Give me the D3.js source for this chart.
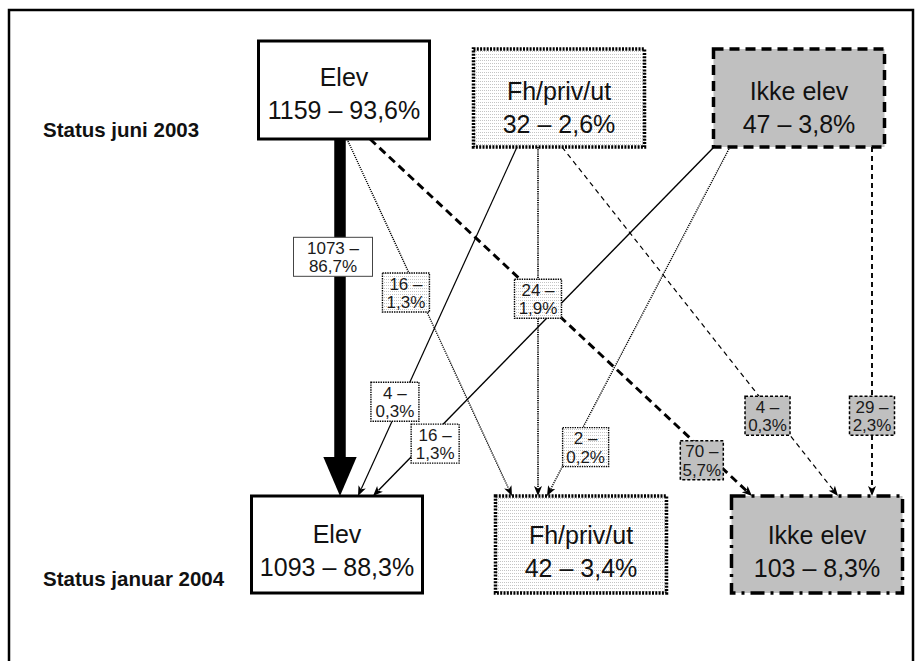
<!DOCTYPE html>
<html>
<head>
<meta charset="utf-8">
<script src="https://cdn.jsdelivr.net/npm/d3@7"></script>
<style>
  body { margin: 0; background: #fff; }
  svg { display: block; }
</style>
</head>
<body>
<div id="chart"></div>
<script>
// categories and values
const statuses = ["Elev", "Fh/priv/ut", "Ikke elev"];
const periods = ["Status juni 2003", "Status januar 2004"];
const countJune = [1159, 32, 47];
const shareJune = ["93,6%", "2,6%", "3,8%"];
const countJan = [1093, 42, 103];
const shareJan = ["88,3%", "3,4%", "8,3%"];

const flowFrom = ["Elev", "Elev", "Elev", "Fh/priv/ut", "Fh/priv/ut", "Fh/priv/ut", "Ikke elev", "Ikke elev", "Ikke elev"];
const flowTo = ["Elev", "Fh/priv/ut", "Ikke elev", "Elev", "Fh/priv/ut", "Ikke elev", "Elev", "Fh/priv/ut", "Ikke elev"];
const flowCount = [1073, 16, 70, 4, 24, 4, 16, 2, 29];
const flowShare = ["86,7%", "1,3%", "5,7%", "0,3%", "1,9%", "0,3%", "1,3%", "0,2%", "2,3%"];

const width = 919, height = 661;

// layout (where things sit on the page)
const xTop = d3.scaleOrdinal(statuses, [344, 559, 799]);
const xBot = d3.scaleOrdinal(statuses, [337, 581, 817]);
const yTopBox = d3.scaleOrdinal(statuses, [[41, 139], [49, 147], [49, 147]]);
const yBotBox = d3.scaleOrdinal(statuses, [[496, 593], [496, 593], [496, 593]]);
const textDyTop = d3.scaleOrdinal(statuses, [-2, 4, 4]);
const textDyBot = d3.scaleOrdinal(statuses, [0, 1, 1]);
const yPeriod = d3.scaleOrdinal(periods, [137, 586]);
const boxW = 171;

// start / end offsets on the box edges, label position along each link
const srcOff = [-4, 3, 26, -42, -21, 3, -85, -69, 73];
const dstOff = [3, -69, -65, 21, -43, 21, 36, -34, 55];
const labT = [0.33, 0.43, 0.9, 0.73, 0.435, 0.77, 0.85, 0.86, 0.77];
const labDx = [-7, -12, -12, -6, 0, -7, 11, 13, 0];
const labW = [79, 47, 43, 48, 47, 45, 48, 46, 45];

const widthScale = d3.scaleSqrt().domain([0, 1073]).range([0, 11.5]);

const svg = d3.select("#chart").append("svg")
    .attr("width", width)
    .attr("height", height)
    .style("font-family", "'Liberation Sans', Arial, sans-serif");

// dotted fill used for Fh/priv/ut
const defs = svg.append("defs");
const pat = defs.append("pattern")
    .attr("id", "dots")
    .attr("patternUnits", "userSpaceOnUse")
    .attr("width", 2).attr("height", 3);
pat.append("rect").attr("width", 2).attr("height", 3).attr("fill", "#fff");
pat.append("rect").attr("width", 1).attr("height", 1).attr("fill", "#c4c4c4");

// outer frame
svg.append("path")
    .attr("d", `M9,${height + 5} V10 H913 V${height + 5}`)
    .attr("fill", "none")
    .attr("stroke", "#000")
    .attr("stroke-width", 2.5);

const fillOf = s => s === "Elev" ? "#fff" : s === "Fh/priv/ut" ? "url(#dots)" : "#c0c0c0";

// period titles
svg.selectAll("text.period")
    .data(periods)
    .join("text")
    .attr("class", "period")
    .attr("x", 43)
    .attr("y", d => yPeriod(d))
    .attr("font-size", 20.5)
    .attr("font-weight", "bold")
    .attr("fill", "#111")
    .text(d => d);

// links
const links = flowFrom.map((f, i) => {
    const x1 = xTop(f) + srcOff[i], y1 = yTopBox(f)[1];
    const x2 = xBot(flowTo[i]) + dstOff[i], y2 = yBotBox(flowTo[i])[0];
    return { from: f, to: flowTo[i], count: flowCount[i], share: flowShare[i], x1, y1, x2, y2, i };
});

const linkG = svg.append("g");
links.forEach(l => {
    let w = Math.max(1.2, widthScale(l.count));
    const len = Math.hypot(l.x2 - l.x1, l.y2 - l.y1);
    const ux = (l.x2 - l.x1) / len, uy = (l.y2 - l.y1) / len;
    const headL = Math.max(10, w * 3.4), headW = Math.max(8, w * 2.9);
    const bx = l.x2 - ux * headL * 0.8, by = l.y2 - uy * headL * 0.8;

    let dash = null;
    if (l.to === "Fh/priv/ut") { dash = "1.2,1"; w = Math.max(w, 1.4); }
    if (l.to === "Ikke elev") dash = l.count > 50 ? "8,5" : "5,4";

    linkG.append("line")
        .attr("x1", l.x1).attr("y1", l.y1)
        .attr("x2", bx).attr("y2", by)
        .attr("stroke", "#000")
        .attr("stroke-width", w)
        .attr("stroke-dasharray", dash);

    // arrow head
    const px = -uy, py = ux;
    const baseX = l.x2 - ux * headL, baseY = l.y2 - uy * headL;
    const notchX = l.x2 - ux * headL * 0.75, notchY = l.y2 - uy * headL * 0.75;
    const head = w > 5
        ? `M${l.x2},${l.y2} L${baseX + px * headW / 2},${baseY + py * headW / 2} L${baseX - px * headW / 2},${baseY - py * headW / 2} Z`
        : `M${l.x2},${l.y2} L${baseX + px * headW / 2},${baseY + py * headW / 2} L${notchX},${notchY} L${baseX - px * headW / 2},${baseY - py * headW / 2} Z`;
    linkG.append("path").attr("d", head).attr("fill", "#000");
});

// flow labels
const labG = svg.append("g");
links.forEach(l => {
    const t = labT[l.i];
    const cx = l.x1 + (l.x2 - l.x1) * t + labDx[l.i];
    const cy = l.y1 + (l.y2 - l.y1) * t;
    const w = labW[l.i], h = 39;
    let stroke = "#000", sw = 1.4, dash = "1.4,1";
    if (l.to === "Ikke elev") { sw = 1.5; dash = "3,2"; }
    if (l.from === "Elev" && l.to === "Elev") { stroke = "#444"; sw = 1; dash = null; }
    labG.append("rect")
        .attr("x", cx - w / 2).attr("y", cy - h / 2)
        .attr("width", w).attr("height", h)
        .attr("fill", fillOf(l.to))
        .attr("stroke", stroke)
        .attr("stroke-width", sw)
        .attr("stroke-dasharray", dash);
    const txt = labG.append("text")
        .attr("text-anchor", "middle")
        .attr("font-size", 17)
        .attr("fill", "#1a1a1a");
    txt.append("tspan").attr("x", cx).attr("y", cy - 3).text(l.count + " \u2013");
    txt.append("tspan").attr("x", cx).attr("y", cy + 15.5).text(l.share);
});

// status boxes
function drawBoxes(row, xs, ys, dys, counts, shares) {
    const g = svg.append("g");
    statuses.forEach((s, i) => {
        const [y0, y1] = ys(s);
        const cx = xs(s), cy = (y0 + y1) / 2 + dys(s);
        let dash = null;
        if (s === "Fh/priv/ut") dash = "2,1.3";
        if (s === "Ikke elev") dash = row === 0 ? "10,6" : "14,6,3,6";
        g.append("rect")
            .attr("x", cx - boxW / 2).attr("y", y0)
            .attr("width", boxW).attr("height", y1 - y0)
            .attr("fill", fillOf(s))
            .attr("stroke", "#000")
            .attr("stroke-width", s === "Elev" ? 3 : 3.5)
            .attr("stroke-dasharray", dash);
        const t = g.append("text")
            .attr("text-anchor", "middle")
            .attr("font-size", 25)
            .attr("fill", "#111");
        t.append("tspan").attr("x", cx).attr("y", cy - 2).text(s);
        t.append("tspan").attr("x", cx).attr("y", cy + 31).text(counts[i] + " \u2013 " + shares[i]);
    });
}
drawBoxes(0, xTop, yTopBox, textDyTop, countJune, shareJune);
drawBoxes(1, xBot, yBotBox, textDyBot, countJan, shareJan);
</script>
</body>
</html>
